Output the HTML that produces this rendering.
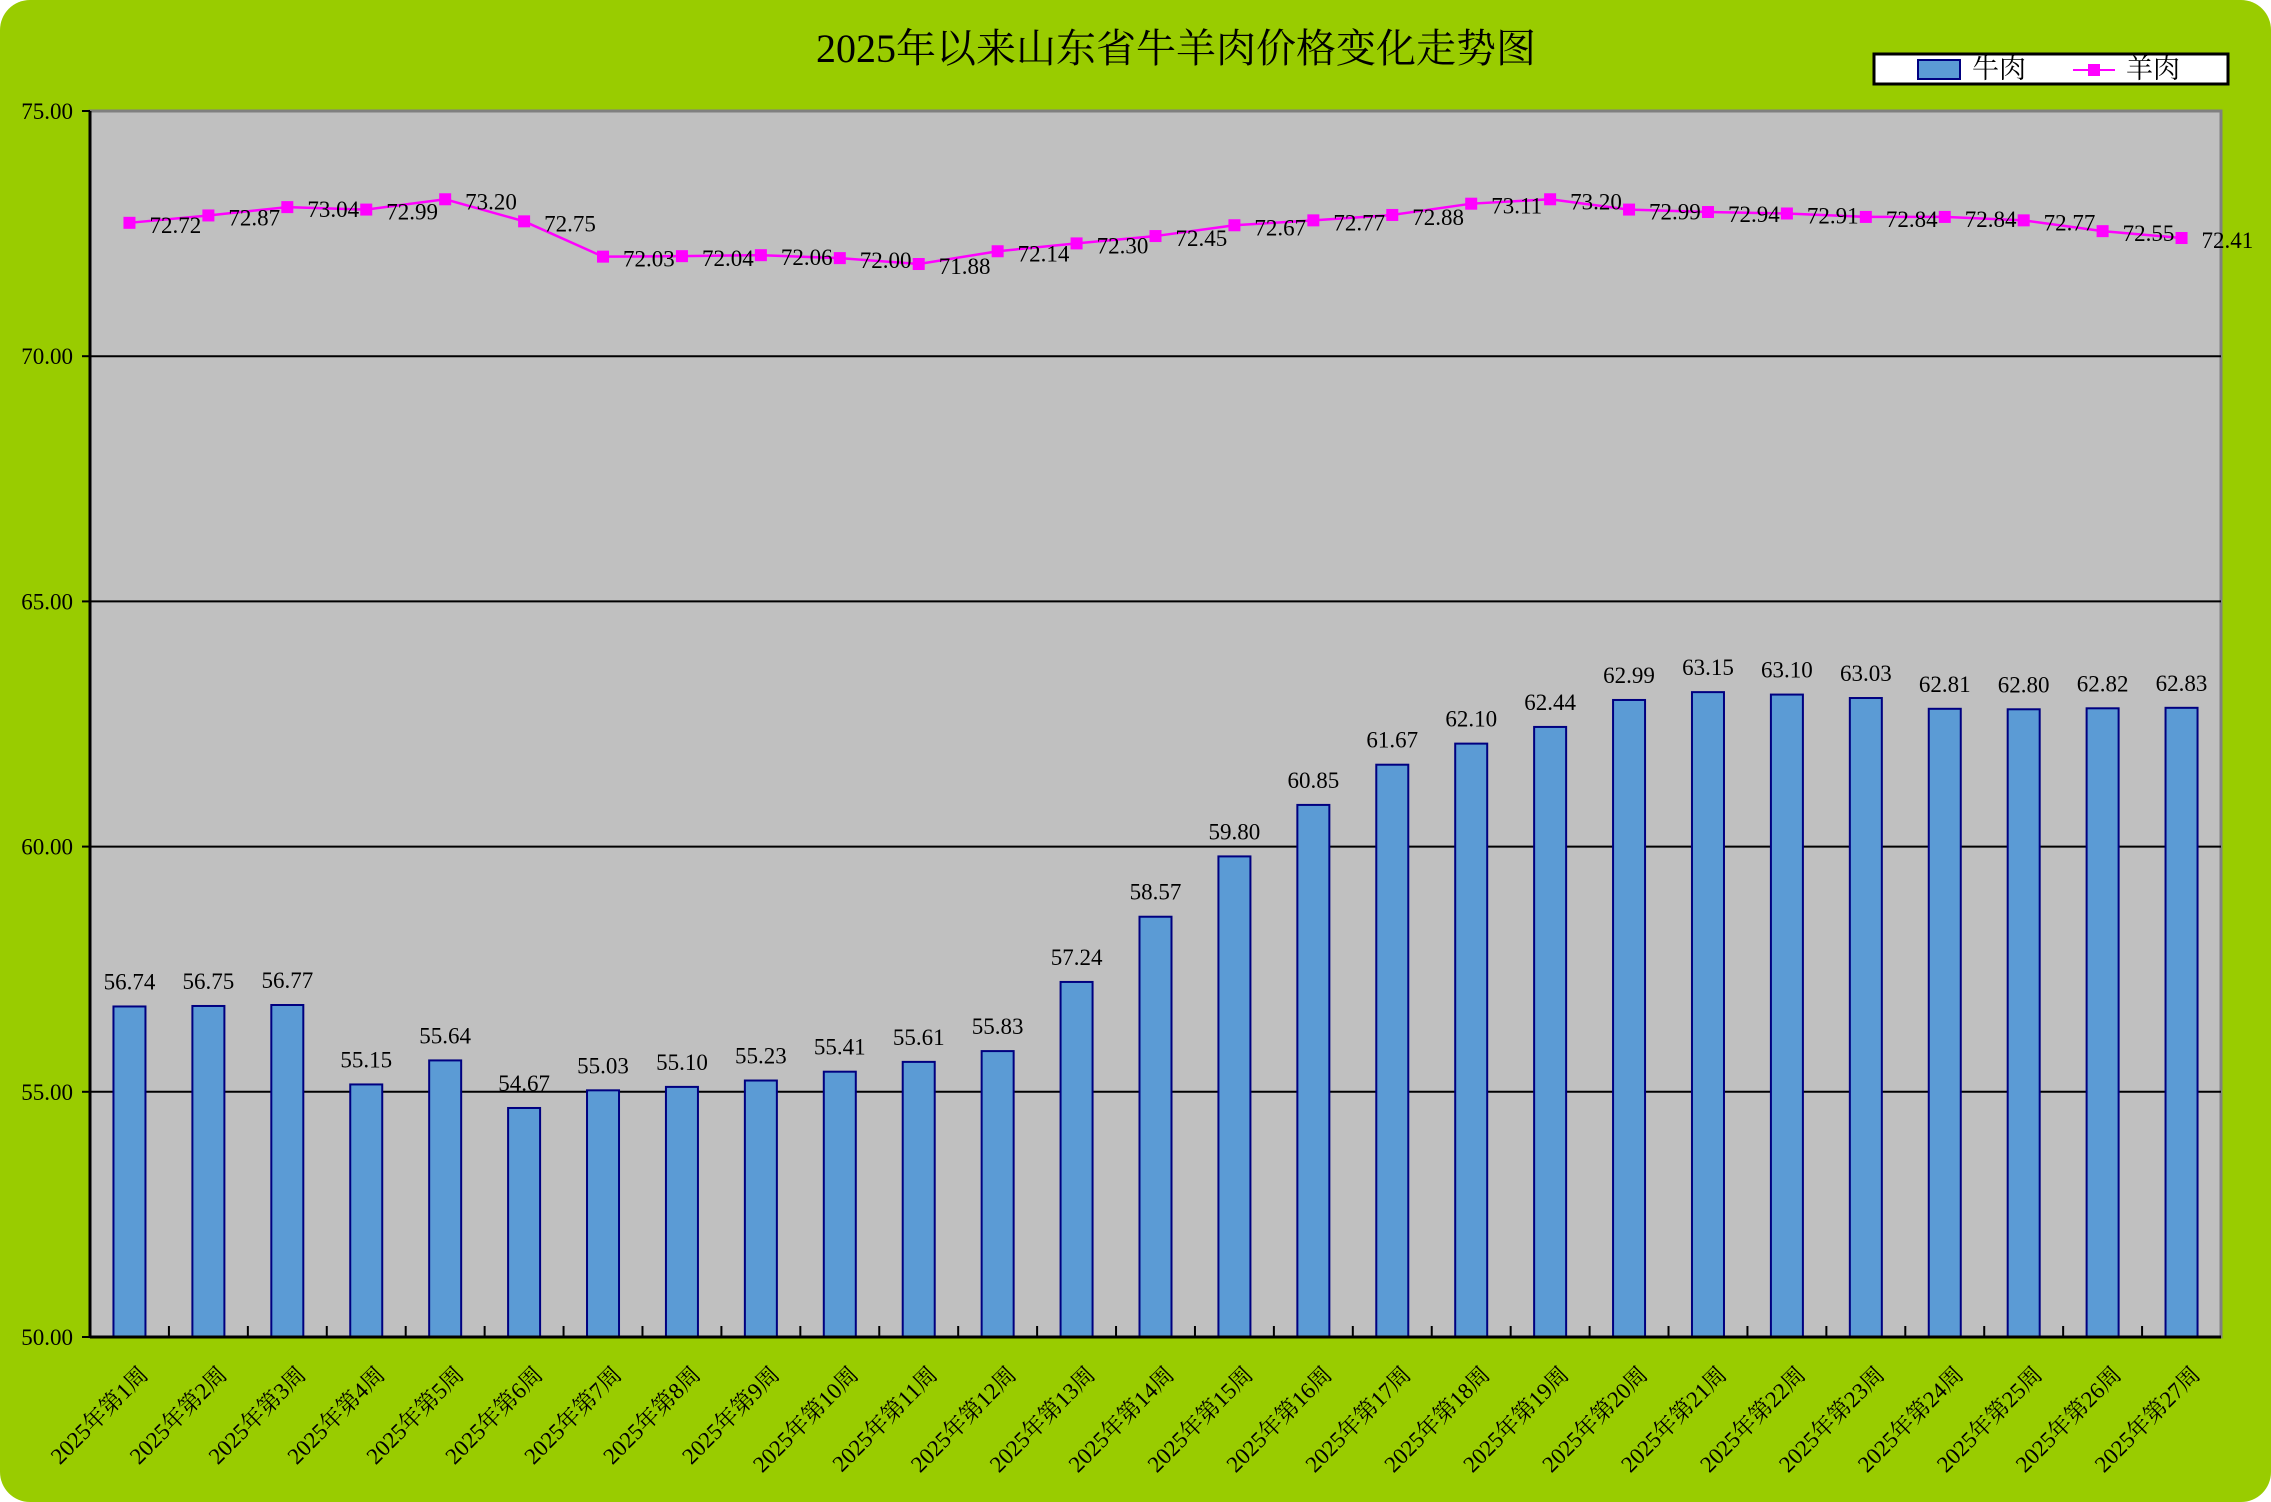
<!DOCTYPE html>
<html><head><meta charset="utf-8"><style>
html,body{margin:0;padding:0;background:#fff}
svg{display:block}
text{font-family:"Liberation Serif","Noto Serif CJK SC",serif;fill:#000}
</style></head><body>
<svg width="2271" height="1502" viewBox="0 0 2271 1502">
<rect x="0" y="0" width="2271" height="1502" rx="30" fill="#99CC00"/>
<text x="1176" y="62" font-size="40" text-anchor="middle">2025年以来山东省牛羊肉价格变化走势图</text>
<g>
<rect x="1874" y="54" width="354" height="30" fill="#fff" stroke="#000" stroke-width="3"/>
<g>
<rect x="1918" y="60" width="42" height="19" fill="#5B9BD5" stroke="#000080" stroke-width="2"/>
<text x="1972" y="78" font-size="27">牛肉</text>
</g>
<g>
<line x1="2073" y1="70" x2="2115" y2="70" stroke="#FF00FF" stroke-width="2"/>
<rect x="2088" y="64" width="12" height="12" fill="#FF00FF"/>
<text x="2126" y="78" font-size="27">羊肉</text>
</g>
</g>
<g id="plot"></g>
</svg>
<script>
const categories = Array.from({length:27},(_,i)=>"2025年第"+(i+1)+"周");
const beefValues = [56.74,56.75,56.77,55.15,55.64,54.67,55.03,55.10,55.23,55.41,55.61,55.83,57.24,58.57,59.80,60.85,61.67,62.10,62.44,62.99,63.15,63.10,63.03,62.81,62.80,62.82,62.83];
const muttonValues = [72.72,72.87,73.04,72.99,73.20,72.75,72.03,72.04,72.06,72.00,71.88,72.14,72.30,72.45,72.67,72.77,72.88,73.11,73.20,72.99,72.94,72.91,72.84,72.84,72.77,72.55,72.41];
const yTicks = [50,55,60,65,70,75];

const L=90,R=2221,T=111,B=1337,yMin=50,yMax=75;
const NS="http://www.w3.org/2000/svg";
const g=document.getElementById('plot');
const cw=(R-L)/categories.length;
function xC(i){return L+cw*(i+0.5);}
function yS(v){return B-(v-yMin)/(yMax-yMin)*(B-T);}
function mk(tag,attrs,parent){const e=document.createElementNS(NS,tag);for(const k in attrs)e.setAttribute(k,attrs[k]);(parent||g).appendChild(e);return e;}

const bg=mk('rect',{x:L,y:T,width:R-L,height:B-T,fill:'#C0C0C0',stroke:'#808080','stroke-width':3});



yTicks.forEach(v=>{
  const y=yS(v);
  if(v>yMin&&v<yMax){
    const l=mk('line',{x1:L,x2:R,y1:y,y2:y,stroke:'#000','stroke-width':2});
    
    
  }
  const tk=mk('line',{x1:L-8,x2:L,y1:y,y2:y,stroke:'#000','stroke-width':2});
  
  
  const t=mk('text',{x:L-17,y:y+8,'font-size':23,'text-anchor':'end'});
  t.textContent=v.toFixed(2);
  
  
});

const bw=32;
beefValues.forEach((v,i)=>{
  const x=xC(i),y=yS(v);
  const r=mk('rect',{x:x-bw/2,y:y,width:bw,height:B-y,fill:'#5B9BD5',stroke:'#000080','stroke-width':2});
  
  
  const t=mk('text',{x:x,y:y-17,'font-size':23,'text-anchor':'middle'});
  t.textContent=v.toFixed(2);
  
  
});

const axL=mk('line',{x1:L,x2:L,y1:T,y2:B,stroke:'#000','stroke-width':3});


const axB=mk('line',{x1:L,x2:R,y1:B,y2:B,stroke:'#000','stroke-width':3});


for(let i=1;i<categories.length;i++){
  const x=L+cw*i;
  const tk=mk('line',{x1:x,x2:x,y1:B-11,y2:B,stroke:'#000','stroke-width':2});
  
  
}
categories.forEach((c,i)=>{
  const x=xC(i)+20,y=1376;
  const t=mk('text',{x:0,y:0,'font-size':23,'text-anchor':'end',transform:`translate(${x},${y}) rotate(-45)`});
  t.textContent=c;
  
  
});

const pts=muttonValues.map((v,i)=>xC(i)+','+yS(v)).join(' ');
const pl=mk('polyline',{points:pts,fill:'none',stroke:'#FF00FF','stroke-width':2.5});


muttonValues.forEach((v,i)=>{
  const x=xC(i),y=yS(v);
  const m=mk('rect',{x:x-6,y:y-6,width:12,height:12,fill:'#FF00FF'});
  
  
  const t=mk('text',{x:x+20,y:y+10,'font-size':23});
  t.textContent=v.toFixed(2);
  
  
});
</script>
</body></html>
